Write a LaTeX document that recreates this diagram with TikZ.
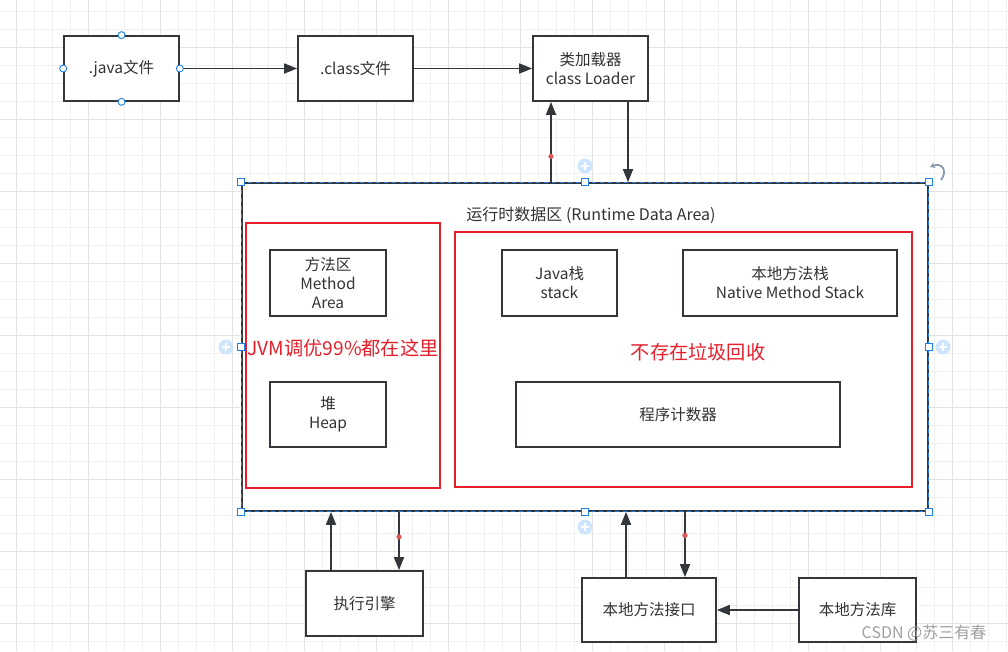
\documentclass[tikz,border=0pt]{standalone}
\usepackage{fontspec}
\setmainfont{Noto Sans CJK SC}
\usepackage{tikz}
\usetikzlibrary{arrows.meta}

\definecolor{boxgray}{HTML}{33373B}
\definecolor{jvmred}{HTML}{E5202B}
\definecolor{selblue}{HTML}{1A7FE8}
\definecolor{gridminor}{HTML}{F0F0F0}
\definecolor{gridmajor}{HTML}{E2E2E2}
\definecolor{plusblue}{HTML}{CFE5FD}
\definecolor{txtgray}{HTML}{333333}
\definecolor{dotred}{HTML}{E05555}
\definecolor{rotgray}{HTML}{8A9AAE}

\tikzset{
  box/.style={draw=boxgray, line width=1.7pt, fill=white, inner sep=0pt,
    align=center, text=txtgray, font=\fontsize{15.5}{19}\selectfont},
  redbox/.style={draw=jvmred, line width=1.7pt, inner sep=0pt},
  redtext/.style={text=jvmred, inner sep=0pt, font=\fontsize{19.2}{23}\selectfont},
  arr/.style={draw=boxgray, line width=1.7pt, -{Triangle[length=13pt,width=10pt]}},
  handle/.style={draw=selblue, fill=white, line width=0.9pt, inner sep=0pt, minimum size=7.5pt},
  pinhandle/.style={circle, draw=selblue, fill=white, line width=0.9pt, inner sep=0pt, minimum size=7pt}
}

\begin{document}
\begin{tikzpicture}[x=1pt, y=-1pt]
\useasboundingbox (0,0) rectangle (1008,651);
\fill[white] (0,0) rectangle (1008,651);

% grid
\foreach \gx in {16.7,34.7,...,1008} \draw[gridminor, line width=0.8pt] (\gx,0) -- (\gx,651);
\foreach \gy in {11.5,29.5,...,651} \draw[gridminor, line width=0.8pt] (0,\gy) -- (1008,\gy);
\foreach \gx in {16.7,88.7,...,1008} \draw[gridmajor, line width=0.8pt] (\gx,0) -- (\gx,651);
\foreach \gy in {47.5,119.5,...,651} \draw[gridmajor, line width=0.8pt] (0,\gy) -- (1008,\gy);

% top row
\node[box, minimum width=115pt, minimum height=65pt] (java) at (121.5,68.5) {.java文件};
\node[box, minimum width=115pt, minimum height=65pt] (class) at (355.5,68.5) {.class文件};
\node[box, minimum width=115pt, minimum height=65pt] (loader) at (590.5,68.5) {类加载器\\class Loader};

% runtime data area
\node[box, minimum width=686pt, minimum height=328pt] (main) at (585,347) {};
\draw[selblue, line width=1.1pt, dash pattern=on 4pt off 4pt] (main.north west) rectangle (main.south east);
\node[text=txtgray, inner sep=0pt, font=\fontsize{16}{19}\selectfont] (title) at (591,215) {运行时数据区 (Runtime Data Area)};

\node[redbox, minimum width=194pt, minimum height=265pt] (shared) at (343,355.5) {};
\node[redbox, minimum width=457pt, minimum height=255pt] (private) at (683.5,359.5) {};

\node[box, minimum width=116pt, minimum height=66pt] (method) at (328,283) {方法区\\Method\\Area};
\node[box, minimum width=116pt, minimum height=65pt] (heap) at (328,414.5) {堆\\Heap};
\node[redtext] (tune) at (343,348) {JVM调优99\%都在这里};

\node[box, minimum width=115pt, minimum height=66pt] (jstack) at (559.5,283) {Java栈\\stack};
\node[box, minimum width=214pt, minimum height=66pt] (nstack) at (790,283) {本地方法栈\\Native Method Stack};
\node[redtext] (nogc) at (698,352) {不存在垃圾回收};
\node[box, minimum width=324pt, minimum height=65pt] (pc) at (678,414.5) {程序计数器};

% bottom row
\node[box, minimum width=117pt, minimum height=65pt] (engine) at (364.5,603.5) {执行引擎};
\node[box, minimum width=134pt, minimum height=64pt] (nif) at (649,610) {本地方法接口};
\node[box, minimum width=117pt, minimum height=64pt] (nlib) at (857.5,610) {本地方法库};

% connectors
\coordinate (ldUp) at (551,0);
\coordinate (ldDown) at (628,0);
\coordinate (enUp) at (331,0);
\coordinate (enDown) at (399,0);
\coordinate (nfUp) at (626,0);
\coordinate (nfDown) at (685,0);

\draw[arr] (java.east) -- (class.west);
\draw[arr] (class.east) -- (loader.west);
\draw[arr] (main.north -| ldUp) -- coordinate[pos=.32] (dotA) (loader.south -| ldUp);
\draw[arr] (loader.south -| ldDown) -- (main.north -| ldDown);
\draw[arr] (engine.north -| enUp) -- (main.south -| enUp);
\draw[arr] (main.south -| enDown) -- coordinate[pos=.43] (dotB) (engine.north -| enDown);
\draw[arr] (nif.north -| nfUp) -- (main.south -| nfUp);
\draw[arr] (main.south -| nfDown) -- coordinate[pos=.36] (dotC) (nif.north -| nfDown);
\draw[arr] (nlib.west) -- (nif.east);

\foreach \d in {dotA,dotB,dotC} \fill[dotred] (\d) circle (2.6);

% selection handles
\foreach \a in {north west,north,north east,east,south east,south,south west,west}
  \node[handle] at (main.\a) {};
\foreach \a in {north,east,south,west}
  \node[pinhandle] at (java.\a) {};
\foreach \px/\py in {585/166,226/347,943/347,585/527} {
  \fill[plusblue] (\px,\py) circle (7.5);
  \draw[white, line width=1.3pt] (\px-4,\py) -- (\px+4,\py) (\px,\py-4) -- (\px,\py+4);
}
\draw[rotgray, line width=1.8pt, -{Stealth[length=5pt,width=6pt]}] (941,180) .. controls (948,171) and (942,162) .. (930,167);

% watermark
\node[text=gray!75, inner sep=0pt, font=\fontsize{16}{19}\selectfont] (mark) at (924,633) {CSDN @苏三有春};
\end{tikzpicture}
\end{document}
